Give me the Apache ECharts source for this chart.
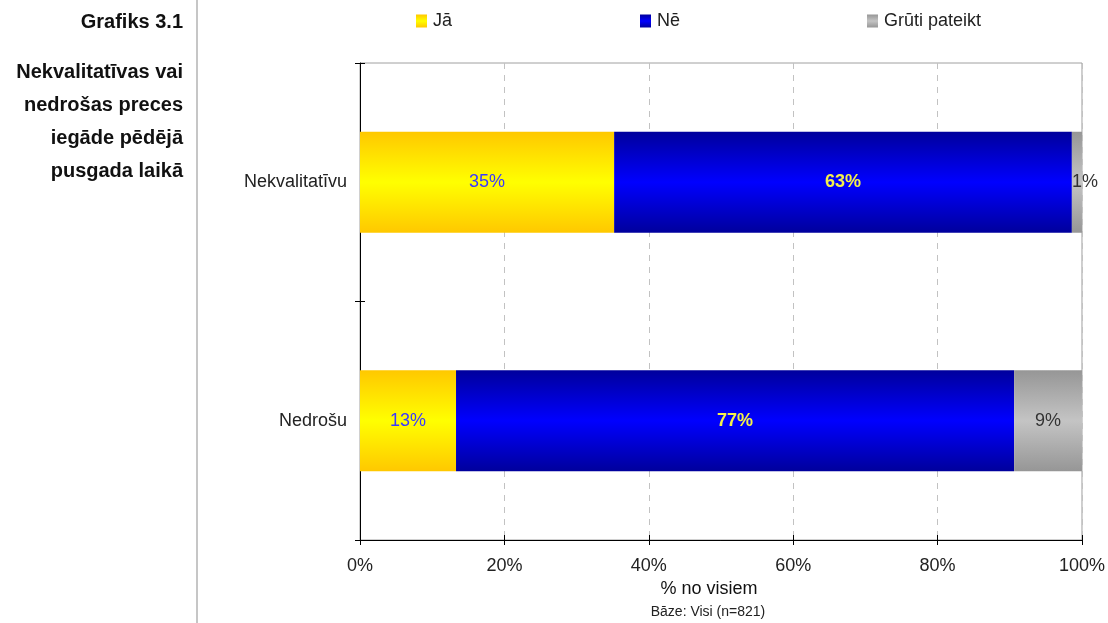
<!DOCTYPE html>
<html>
<head>
<meta charset="utf-8">
<title>Grafiks 3.1</title>
<script src="https://cdn.jsdelivr.net/npm/echarts@6/dist/echarts.min.js"></script>
<style>
  html, body { margin: 0; padding: 0; background: #ffffff; }
  #chart { width: 1108px; height: 623px; }
</style>
</head>
<body>
<div id="chart"></div>
<script>
// Survey answers, share of all respondents (%)
const categories = ['Nekvalitatīvu', 'Nedrošu'];
const seriesNames = ['Jā', 'Nē', 'Grūti pateikt'];
const jaValues = [35.2, 13.3];
const neValues = [63.4, 77.3];
const grutiValues = [1.4, 9.4];
const xTickValues = [0, 20, 40, 60, 80, 100];

const chartNumber = 'Grafiks 3.1';
const titleLines = ['Nekvalitatīvas vai', 'nedrošas preces', 'iegāde pēdējā', 'pusgada laikā'];
const axisTitle = '% no visiem';
const baseNote = 'Bāze: Visi (n=821)';

const FONT = '"Liberation Sans", Arial, Helvetica, sans-serif';

function vGrad(edge, mid) {
  return new echarts.graphic.LinearGradient(0, 0, 0, 1, [
    { offset: 0, color: edge },
    { offset: 0.5, color: mid },
    { offset: 1, color: edge }
  ]);
}

const styles = [
  { color: vGrad('#ffc800', '#ffff00'), label: { color: '#3a3aff', fontWeight: 'normal' } },
  { color: vGrad('#00009c', '#0000ff'), label: { color: '#f4f04a', fontWeight: 'bold' } },
  { color: vGrad('#969696', '#c4c4c4'), label: { color: '#333333', fontWeight: 'normal' } }
];
const valueSets = [jaValues, neValues, grutiValues];

const series = valueSets.map((vals, i) => ({
  name: seriesNames[i],
  type: 'bar',
  stack: 'total',
  xAxisIndex: 0,
  yAxisIndex: 0,
  barWidth: 101,
  itemStyle: { color: styles[i].color },
  label: {
    show: true,
    position: 'inside',
    fontFamily: FONT,
    fontSize: 18,
    color: styles[i].label.color,
    fontWeight: styles[i].label.fontWeight,
    formatter: p => Math.round(p.value) + '%'
  },
  // narrow segments: nudge the text to the right of the thin bar
  data: vals.map(v => v < 3 ? { value: v, label: { offset: [8, 0] } } : v)
}));

const legendLefts = [416, 640, 867];
const legends = seriesNames.map((n, i) => ({
  data: [n],
  icon: 'rect',
  left: legendLefts[i],
  top: 12,
  padding: 0,
  itemWidth: 11,
  itemHeight: 13,
  itemGap: 0,
  selectedMode: false,
  textStyle: { fontFamily: FONT, fontSize: 18, color: '#222', padding: [0, 0, 0, 1] }
}));

const chart = echarts.init(document.getElementById('chart'), null, { renderer: 'canvas' });

chart.setOption({
  animation: false,
  backgroundColor: '#ffffff',
  legend: legends,
  grid: {
    left: 360, right: 26, top: 63, bottom: 83,
    show: true,
    borderColor: '#a0a0a0',
    borderWidth: 1,
    backgroundColor: 'transparent'
  },
  xAxis: [
    {
      type: 'value',
      min: xTickValues[0],
      max: xTickValues[xTickValues.length - 1],
      interval: xTickValues[1] - xTickValues[0],
      axisLine: { show: true, lineStyle: { color: '#000', width: 1 } },
      axisTick: { show: true, length: 5, lineStyle: { color: '#000' } },
      axisLabel: { fontFamily: FONT, fontSize: 18, color: '#222', margin: 17, formatter: '{value}%' },
      splitLine: { show: true, lineStyle: { color: '#c2c2c2', type: [6, 6], width: 1 } }
    },
    {
      // inner half of the crossing tick marks
      type: 'value',
      position: 'bottom',
      min: xTickValues[0],
      max: xTickValues[xTickValues.length - 1],
      interval: xTickValues[1] - xTickValues[0],
      axisLine: { show: false },
      axisTick: { show: true, inside: true, length: 5, lineStyle: { color: '#000' } },
      axisLabel: { show: false },
      splitLine: { show: false }
    }
  ],
  yAxis: [
    {
      type: 'category',
      data: categories,
      inverse: true,
      axisLine: { show: true, lineStyle: { color: '#000', width: 1 } },
      axisTick: { show: true, length: 5, lineStyle: { color: '#000' } },
      axisLabel: { fontFamily: FONT, fontSize: 18, color: '#222', margin: 13 },
      splitLine: { show: false }
    },
    {
      type: 'category',
      position: 'left',
      data: categories,
      inverse: true,
      axisLine: { show: false },
      axisTick: { show: true, inside: true, length: 5, lineStyle: { color: '#000' } },
      axisLabel: { show: false },
      splitLine: { show: false }
    }
  ],
  graphic: [
    {
      type: 'line',
      shape: { x1: 197, y1: 0, x2: 197, y2: 623 },
      style: { stroke: '#c6c6c6', lineWidth: 2 }
    },
    {
      type: 'text',
      x: 183, y: 22,
      style: {
        text: chartNumber, align: 'right', verticalAlign: 'middle',
        font: 'bold 20px ' + FONT, fill: '#111'
      }
    },
    ...titleLines.map((t, i) => ({
      type: 'text',
      x: 183, y: 72 + i * 33.2,
      style: {
        text: t, align: 'right', verticalAlign: 'middle',
        font: 'bold 20px ' + FONT, fill: '#111'
      }
    })),
    {
      type: 'text',
      x: 709, y: 589,
      style: {
        text: axisTitle, align: 'center', verticalAlign: 'middle',
        font: '18px ' + FONT, fill: '#111'
      }
    },
    {
      type: 'text',
      x: 708, y: 612,
      style: {
        text: baseNote, align: 'center', verticalAlign: 'middle',
        font: '14px ' + FONT, fill: '#222'
      }
    }
  ],
  series: series
});
</script>
</body>
</html>
